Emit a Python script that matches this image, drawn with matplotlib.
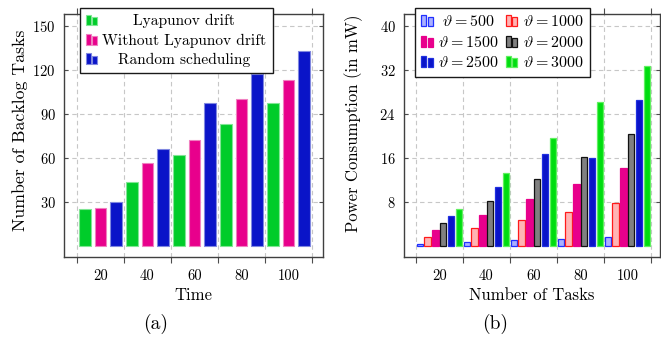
import numpy as np
import matplotlib
matplotlib.use('Agg')
import matplotlib.pyplot as plt
from matplotlib.patches import Rectangle
from matplotlib.container import BarContainer
from matplotlib.legend_handler import HandlerBase

plt.rcParams['font.family'] = 'serif'
plt.rcParams['font.serif'] = ['cmr10']
plt.rcParams['mathtext.fontset'] = 'cm'
plt.rcParams['axes.formatter.use_mathtext'] = True

# --- data (a) ---
time = [20, 40, 60, 80, 100]
lyapunov = [25.0, 43.4, 62.0, 83.3, 97.3]
without_lyapunov = [26.0, 56.4, 72.3, 100.2, 113.3]
random_sched = [30.0, 66.3, 97.3, 117.0, 133.3]

# --- data (b) ---
tasks = [20, 40, 60, 80, 100]
p500 = [0.4, 0.7, 1.0, 1.25, 1.6]
p1000 = [1.6, 3.2, 4.7, 6.2, 7.8]
p1500 = [2.9, 5.7, 8.5, 11.3, 14.1]
p2000 = [4.1, 8.2, 12.2, 16.2, 20.3]
p2500 = [5.4, 10.7, 16.7, 16.0, 26.5]
p3000 = [6.7, 13.2, 19.7, 26.2, 32.8]

GREEN = '#00cc2a'
PINK = '#e8008c'
BLUE = '#0a14c8'


class BarIcon(HandlerBase):
    # icona tipo pgfplots: due barrette affiancate
    def create_artists(self, legend, orig, xd, yd, w, h, fs, trans):
        p = orig.patches[0] if isinstance(orig, BarContainer) else orig
        bw = w * 0.42
        out = []
        for x0, hh in [(0.0, 1.0), (w * 0.52, 0.8)]:
            out.append(Rectangle((x0 - xd, -yd), bw, h * hh,
                                 facecolor=p.get_facecolor(), edgecolor=p.get_edgecolor(),
                                 lw=p.get_linewidth(), transform=trans))
        return out


def style(ax, xlim, ylim, yticks):
    ax.set_xlim(*xlim)
    ax.set_ylim(*ylim)
    ax.set_xticks(np.arange(10, 111, 20))
    ax.set_xticklabels([])
    ax.set_xticks(tasks, minor=True)
    ax.set_xticklabels([str(t) for t in tasks], minor=True)
    ax.tick_params(axis='x', which='major', direction='out', length=4, top=True,
                   color='0.3', width=0.8)
    ax.tick_params(axis='x', which='minor', length=0, pad=9, labelsize=10.5)
    ax.set_yticks(yticks)
    ax.tick_params(axis='y', direction='in', length=3, right=True, color='0.3',
                   labelsize=10.5, pad=6)
    ax.grid(True, which='major', ls=(0, (4, 3)), color='0.78', lw=0.8)
    ax.set_axisbelow(True)
    for s in ax.spines.values():
        s.set_color('0.25')
        s.set_linewidth(1.0)


def center_legend_text(fig, leg, ncol):
    # testi della legenda centrati nella colonna, come in pgfplots
    fig.canvas.draw()
    texts = leg.get_texts()
    per_col = int(np.ceil(len(texts) / ncol))
    inv = fig.transFigure.inverted()
    for c in range(ncol):
        col = texts[c * per_col:(c + 1) * per_col]
        boxes = [t.get_window_extent() for t in col]
        x0 = min(b.x0 for b in boxes)
        x1 = max(b.x1 for b in boxes)
        for t in col:
            _, yb = t.get_transform().transform(t.get_position())
            fx, fy = inv.transform(((x0 + x1) / 2, yb))
            fig.text(fx, fy, t.get_text(), ha='center', va='baseline',
                     fontsize=t.get_fontsize())
            t.set_visible(False)


fig = plt.figure(figsize=(6.61, 3.41), dpi=100)
ax1 = fig.add_axes([64 / 661, 84 / 341, 259 / 661, 243 / 341])
ax2 = fig.add_axes([404 / 661, 84 / 341, 256 / 661, 243 / 341])

leg_kw = dict(loc='upper left', bbox_transform=fig.transFigure, borderaxespad=0,
              handler_map={BarContainer: BarIcon()}, handlelength=0.75,
              handletextpad=0.3, labelspacing=0.34, borderpad=0.4,
              fancybox=False, framealpha=1, edgecolor='0.1')

# --- (a) ---
t = np.array(time)
w1 = 5.0
ax1.bar(t - 6.67, lyapunov, w1, color=GREEN, edgecolor='#80e695', lw=0.8, label='Lyapunov drift')
ax1.bar(t, without_lyapunov, w1, color=PINK, edgecolor='#f080c0', lw=0.8, label='Without Lyapunov drift')
ax1.bar(t + 6.67, random_sched, w1, color=BLUE, edgecolor='#8088e0', lw=0.8, label='Random scheduling')
style(ax1, (4.47, 114.7), (-7.5, 158.2), [30, 60, 90, 120, 150])
ax1.set_xlabel('Time', fontsize=12, labelpad=3)
ax1.set_ylabel('Number of Backlog Tasks', fontsize=12.8)
ax1.yaxis.set_label_coords(-0.14, 0.52)

leg1 = ax1.legend(bbox_to_anchor=(80 / 661, 1 - 8 / 341), fontsize=11.1, **leg_kw)
leg1.get_frame().set_linewidth(1.0)

# --- (b) ---
n = np.array(tasks)
w2 = 2.7
series = [
    (p500, -8.33, '#aab0ff', '#2030ff', r'$\vartheta = 500$'),
    (p1000, -5.0, '#ffb4b4', '#ff1a1a', r'$\vartheta = 1000$'),
    (p1500, -1.67, PINK, PINK, r'$\vartheta = 1500$'),
    (p2000, 1.67, '#808080', '#111111', r'$\vartheta = 2000$'),
    (p2500, 5.0, BLUE, '#2030e0', r'$\vartheta = 2500$'),
    (p3000, 8.33, '#00dd10', '#60f060', r'$\vartheta = 3000$'),
]
bars = []
for vals, off, fc, ec, lab in series:
    bars.append(ax2.bar(n + off, vals, w2, color=fc, edgecolor=ec, lw=0.9, label=lab))
style(ax2, (5.0, 113.9), (-2.0, 42.18), [8, 16, 24, 32, 40])
ax2.set_xlabel('Number of Tasks', fontsize=12, labelpad=3)
ax2.set_ylabel('Power Consumption (in mW)', fontsize=12)
ax2.yaxis.set_label_coords(-0.16, 0.55)

order = [0, 2, 4, 1, 3, 5]
leg2 = ax2.legend([bars[i] for i in order], [series[i][4] for i in order], ncol=2,
                  bbox_to_anchor=(415 / 661, 1 - 8 / 341), fontsize=11.5,
                  columnspacing=0.45, **leg_kw)
leg2.get_frame().set_linewidth(1.0)

fig.text(156 / 661, 1 - 324 / 341, '(a)', ha='center', va='center', fontsize=14)
fig.text(495 / 661, 1 - 324 / 341, '(b)', ha='center', va='center', fontsize=14)

center_legend_text(fig, leg1, 1)
center_legend_text(fig, leg2, 2)

fig.savefig('out.png', dpi=100)
